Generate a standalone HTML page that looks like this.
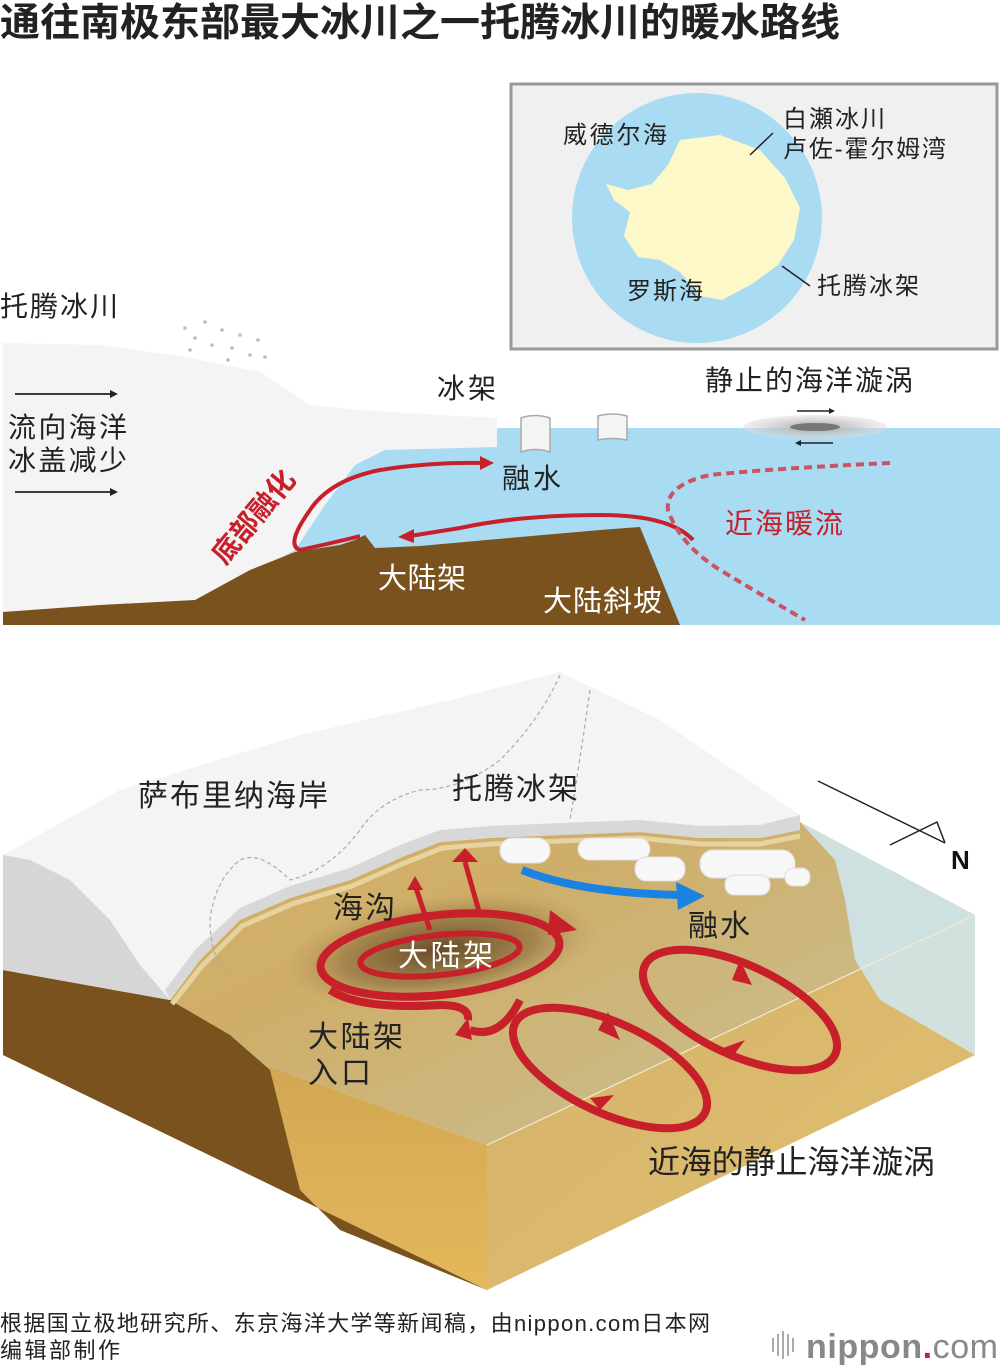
<!DOCTYPE html>
<html><head><meta charset="utf-8"><style>
body{margin:0;background:#fff;}
svg{display:block;font-family:"Liberation Sans","Noto Sans CJK SC",sans-serif;}
</style></head><body>
<svg width="1000" height="1370" viewBox="0 0 1000 1370" xmlns="http://www.w3.org/2000/svg">
<defs>
<linearGradient id="floor" x1="0" y1="0" x2="1" y2="1">
<stop offset="0" stop-color="#d9b45e"/><stop offset="0.5" stop-color="#cfae6a"/><stop offset="1" stop-color="#c8c39a"/></linearGradient>
<linearGradient id="front" x1="0" y1="0" x2="0" y2="1">
<stop offset="0" stop-color="#c9a050"/><stop offset="1" stop-color="#e4b85a"/></linearGradient>
<linearGradient id="rface" x1="0" y1="0" x2="1" y2="1">
<stop offset="0" stop-color="#d2b06a"/><stop offset="1" stop-color="#e2c070"/></linearGradient>
<radialGradient id="trench" cx="0.5" cy="0.5" r="0.5">
<stop offset="0" stop-color="#5a3f1e" stop-opacity="0.9"/><stop offset="0.6" stop-color="#7a5a30" stop-opacity="0.5"/><stop offset="1" stop-color="#b08c50" stop-opacity="0"/></radialGradient>
<radialGradient id="vort" cx="0.5" cy="0.5" r="0.5">
<stop offset="0" stop-color="#888"/><stop offset="0.4" stop-color="#bbb"/><stop offset="1" stop-color="#ddd" stop-opacity="0.6"/></radialGradient>
</defs>

<text x="0" y="36" font-size="39" font-weight="bold" fill="#222" textLength="840" lengthAdjust="spacingAndGlyphs">通往南极东部最大冰川之一托腾冰川的暖水路线</text>

<rect x="511" y="84" width="486" height="265" fill="#f0f0f0" stroke="#999" stroke-width="3"/>
<circle cx="697" cy="218" r="125" fill="#a9dcf3"/>
<path d="M680,140 L720,135 L760,150 L785,178 L800,208 L794,240 L778,265 L752,284 L722,300 L700,296 L680,272 L660,260 L638,257 L624,236 L630,212 L614,200 L606,184 L628,190 L652,184 L668,165 Z" fill="#fdf8c8"/>
<line x1="750" y1="155" x2="773" y2="133" stroke="#222" stroke-width="1.5"/>
<line x1="782" y1="266" x2="810" y2="286" stroke="#222" stroke-width="1.5"/>
<g font-size="24" fill="#222">
<text x="563" y="143" textLength="104">威德尔海</text>
<text x="783" y="127" textLength="102">白瀬冰川</text>
<text x="783" y="157" textLength="163">卢佐-霍尔姆湾</text>
<text x="817" y="294" textLength="102">托腾冰架</text>
<text x="627" y="299" textLength="76">罗斯海</text>
</g>

<rect x="3" y="428" width="997" height="197" fill="#a9dcf3"/>
<path d="M3,343 L100,345 L180,356 L260,372 L310,405 L360,410 L440,415 L497,418 L497,447 L385,450 L355,465 L325,505 L295,550 L250,575 L195,600 L3,612 Z" fill="#f4f4f4"/>
<path d="M3,612 L100,605 L195,600 L250,570 L295,552 L340,545 L355,540 L365,535 L375,548 L420,546 L520,537 L600,530 L640,527 L680,625 L3,625 Z" fill="#7a521e"/>
<g fill="#f4f4f4" stroke="#aaa" stroke-width="1.5">
<path d="M521,418 Q535,413 550,418 L550,452 Q535,447 521,452 Z"/>
<path d="M598,416 Q612,412 627,416 L627,440 Q612,437 598,440 Z"/>
</g>
<ellipse cx="815" cy="427" rx="72" ry="12" fill="url(#vort)" opacity="0.8"/>
<ellipse cx="815" cy="427" rx="25" ry="4" fill="#777"/>
<g stroke="#222" stroke-width="1.5"><line x1="797" y1="411" x2="833" y2="411"/><line x1="797" y1="443" x2="833" y2="443"/></g>
<path d="M829,408 L835,411 L829,414 Z M801,440 L795,443 L801,446 Z" fill="#222"/>
<g fill="#bbb">
<circle cx="185" cy="328" r="1.8"/><circle cx="195" cy="338" r="1.8"/><circle cx="205" cy="322" r="1.8"/><circle cx="212" cy="345" r="1.8"/><circle cx="222" cy="330" r="1.8"/><circle cx="232" cy="348" r="1.8"/><circle cx="240" cy="335" r="1.8"/><circle cx="250" cy="355" r="1.8"/><circle cx="258" cy="340" r="1.8"/><circle cx="265" cy="357" r="1.8"/><circle cx="190" cy="350" r="1.8"/><circle cx="228" cy="360" r="1.8"/>
</g>
<g stroke="#222" stroke-width="1.8"><line x1="15" y1="394" x2="112" y2="394"/><line x1="15" y1="492" x2="112" y2="492"/></g>
<path d="M110,390 L118,394 L110,398 Z M110,488 L118,492 L110,496 Z" fill="#222"/>
<path d="M360,536 Q345,540 300,550 Q285,545 310,510 Q330,480 380,470 Q430,462 485,463" fill="none" stroke="#c8202a" stroke-width="4"/>
<path d="M480,456 L494,463 L480,470 Z" fill="#c8202a"/>
<path d="M693,540 Q670,515 600,515 Q520,515 460,528 L410,536" fill="none" stroke="#c8202a" stroke-width="4"/>
<path d="M414,529 L398,537 L414,543 Z" fill="#c8202a"/>
<path d="M890,463 Q780,468 710,475 Q665,485 668,510 Q680,545 720,570 Q770,600 805,620" fill="none" stroke="#c95562" stroke-width="4" stroke-dasharray="8,5"/>
<g font-size="28" fill="#222">
<text x="0" y="316" textLength="118">托腾冰川</text>
<text x="8" y="437" textLength="119">流向海洋</text>
<text x="8" y="470" textLength="119">冰盖减少</text>
<text x="437" y="398" textLength="59">冰架</text>
<text x="502" y="488" textLength="59">融水</text>
<text x="705" y="390" textLength="208">静止的海洋漩涡</text>
</g>
<text x="725" y="533" font-size="28" fill="#c8202a" textLength="118">近海暖流</text>
<text x="378" y="588" font-size="29" fill="#fff" textLength="88">大陆架</text>
<text x="543" y="611" font-size="29" fill="#fff" textLength="119">大陆斜坡</text>
<text transform="translate(225,566) rotate(-50)" font-size="28" font-weight="bold" fill="#c8202a">底部融化</text>

<path d="M3,970 L487,1145 L975,915 L800,822 L800,815 L560,672 L3,855 Z" fill="url(#floor)"/>
<path d="M3,970 L487,1145 L487,1290 L3,1055 Z" fill="url(#front)"/>
<path d="M3,970 L170,1000 L230,1035 L270,1070 L285,1130 L300,1190 L340,1230 L487,1290 L3,1055 Z" fill="#7a521e"/>
<path d="M487,1145 L975,915 L975,1055 L487,1290 Z" fill="url(#rface)"/>
<path d="M800,822 L975,915 L975,1055 L880,1000 L855,960 L845,900 L835,860 Z" fill="#cfe8f2" opacity="0.85"/>
<path d="M487,1145 L975,915" stroke="#f4ead0" stroke-width="1.2" fill="none"/>
<ellipse cx="440" cy="950" rx="160" ry="55" fill="url(#trench)" transform="rotate(-8 440 950)"/>
<path d="M3,855 L120,790 L300,735 L450,700 L560,672 L660,720 L800,815 L800,830 L760,838 L700,838 L640,832 L560,835 L490,838 L440,842 L400,858 L350,880 L290,898 L240,920 L200,960 L170,1000 L3,970 Z" fill="#f4f4f4"/>
<path d="M3,855 L30,860 L70,880 L110,920 L140,965 L170,1000 L3,970 Z" fill="#d6d6d6"/>
<path d="M170,1000 L200,960 L240,920 L290,898 L350,880 L400,858 L440,842 L490,838 L560,835 L640,832 L700,838 L760,838 L800,830 L800,815 L760,825 L700,826 L640,820 L560,823 L490,826 L440,830 L400,845 L350,868 L290,886 L240,908 L195,950 L165,990 Z" fill="#d8d8d8"/>
<path d="M172,1004 L202,966 L242,926 L292,904 L352,886 L402,864 L442,848 L492,844 L560,841 L640,838 L700,844 L760,844 L800,836" fill="none" stroke="#e6d3a0" stroke-width="5"/>
<path d="M560,675 Q540,720 500,760 Q460,790 420,790 Q380,800 360,830 Q330,870 290,880 Q260,850 240,860 Q215,880 210,920 Q210,960 230,975" fill="none" stroke="#aaa" stroke-width="1.2" stroke-dasharray="4,3"/>
<path d="M590,690 Q580,760 570,820" fill="none" stroke="#aaa" stroke-width="1.2" stroke-dasharray="4,3"/>
<g fill="#f7f7f7" stroke="#ddd" stroke-width="1">
<rect x="500" y="838" width="50" height="25" rx="12"/>
<rect x="578" y="838" width="72" height="22" rx="11"/>
<rect x="635" y="857" width="50" height="24" rx="11"/>
<rect x="700" y="850" width="95" height="28" rx="13"/>
<rect x="725" y="875" width="45" height="20" rx="9"/>
<rect x="785" y="868" width="25" height="18" rx="8"/>
</g>
<path d="M522,870 Q580,893 680,895" fill="none" stroke="#1a82e0" stroke-width="8"/>
<path d="M676,882 L705,896 L678,910 Z" fill="#1a82e0"/>
<g fill="none" stroke="#c8202a" stroke-width="8">
<ellipse cx="440" cy="955" rx="120" ry="40" transform="rotate(-6 440 955)"/>
<ellipse cx="440" cy="955" rx="80" ry="20" transform="rotate(-6 440 955)" stroke-width="6"/>
<path d="M470,1030 Q500,1040 520,1000 M330,990 Q360,1010 440,1005 Q470,1005 468,1020"/>
<ellipse cx="610" cy="1068" rx="105" ry="45" transform="rotate(25 610 1068)"/>
<ellipse cx="740" cy="1010" rx="105" ry="45" transform="rotate(25 740 1010)"/>
<path d="M480,915 Q470,880 465,862 M430,930 Q420,900 415,885" stroke-width="5"/>
</g>
<g fill="#c8202a">
<path d="M550,910 L577,930 L548,935 Z"/>
<path d="M452,862 L465,848 L478,862 Z"/>
<path d="M407,890 L415,876 L423,890 Z"/>
<path d="M608,1012 L620,1040 L598,1030 Z"/>
<path d="M600,1110 L590,1098 L614,1095 Z"/>
<path d="M740,960 L752,985 L732,980 Z"/>
<path d="M730,1060 L723,1048 L745,1040 Z"/>
<path d="M468,1018 L455,1035 L472,1040 Z"/>
</g>
<line x1="818" y1="781" x2="945" y2="843" stroke="#222" stroke-width="1.5"/>
<path d="M890,845 L937,822 L945,843" fill="none" stroke="#222" stroke-width="1.5"/>
<text x="951" y="869" font-size="26" font-weight="bold" fill="#111">N</text>
<g font-size="30" fill="#222">
<text x="138" y="806" textLength="190">萨布里纳海岸</text>
<text x="452" y="799" textLength="126">托腾冰架</text>
<text x="333" y="918" textLength="62">海沟</text>
<text x="688" y="936" textLength="62">融水</text>
<text x="308" y="1047" textLength="95">大陆架</text>
<text x="308" y="1083" textLength="63">入口</text>
<text x="648" y="1173" font-size="32" textLength="287">近海的静止海洋漩涡</text>
</g>
<text x="398" y="966" font-size="30" fill="#fff" textLength="95">大陆架</text>

<g font-size="22" fill="#222">
<text x="0" y="1331" textLength="710">根据国立极地研究所、东京海洋大学等新闻稿，由nippon.com日本网</text>
<text x="0" y="1358" textLength="120">编辑部制作</text>
</g>
<g fill="#aaa"><rect x="772" y="1338" width="2" height="14"/><rect x="777" y="1334" width="2" height="22"/><rect x="782" y="1331" width="2" height="28"/><rect x="787" y="1334" width="2" height="22"/><rect x="792" y="1338" width="2" height="14"/></g>
<text x="806" y="1358" font-size="34" font-weight="bold" fill="#888" textLength="192">nippon<tspan fill="#c8202a">.</tspan><tspan font-weight="normal">com</tspan></text>
</svg>
</body></html>
